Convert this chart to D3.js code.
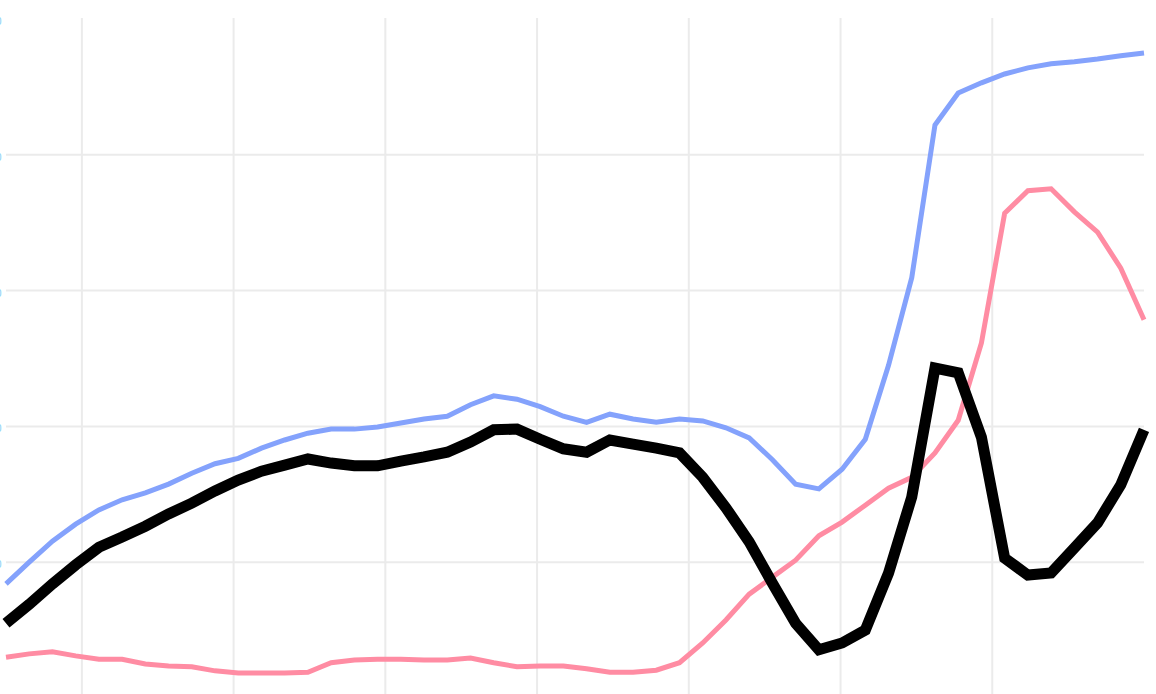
<!DOCTYPE html>
<html>
<head>
<meta charset="utf-8">
<script src="https://cdn.jsdelivr.net/npm/d3@7"></script>
<style>
  html, body { margin: 0; padding: 0; background: #ffffff; }
  svg { display: block; }
</style>
</head>
<body>
<svg id="chart" width="1156" height="694"></svg>
<script>
// x positions in axis units (gridlines at whole units)
const xStart = 0.5, xEnd = 8;
const xTicks = [1, 2, 3, 4, 5, 6, 7];
const yTicks = [20, 40, 60, 80, 100];
const yTickLabels = ["20", "40", "60", "80", "100"];

const blueSeries = [16.8, 20.0, 23.1, 25.6, 27.7, 29.2, 30.2, 31.5, 33.1, 34.5,
  35.3, 36.8, 38.0, 39.0, 39.6, 39.6, 39.9, 40.5, 41.1, 41.5,
  43.2, 44.5, 44.0, 42.9, 41.5, 40.6, 41.8, 41.1, 40.6, 41.1,
  40.8, 39.8, 38.3, 35.1, 31.5, 30.8, 33.7, 38.1, 49.0, 61.9,
  84.4, 89.1, 90.6, 91.9, 92.8, 93.4, 93.7, 94.1, 94.6, 95.0];

const blackSeries = [11.0, 13.8, 16.8, 19.6, 22.2, 23.7, 25.3, 27.1, 28.7, 30.5,
  32.1, 33.4, 34.3, 35.2, 34.6, 34.2, 34.2, 34.9, 35.5, 36.2,
  37.7, 39.5, 39.6, 38.1, 36.7, 36.2, 38.0, 37.4, 36.8, 36.1,
  32.5, 28.0, 23.0, 16.9, 11.0, 7.1, 8.1, 10.0, 18.4, 29.6,
  48.6, 47.9, 38.4, 20.6, 18.1, 18.4, 22.1, 25.8, 31.4, 39.5];

const pinkSeries = [6.0, 6.5, 6.8, 6.2, 5.7, 5.7, 5.0, 4.7, 4.6, 4.0,
  3.7, 3.7, 3.7, 3.8, 5.2, 5.6, 5.7, 5.7, 5.6, 5.6,
  5.9, 5.2, 4.6, 4.7, 4.7, 4.3, 3.8, 3.8, 4.1, 5.2,
  8.1, 11.5, 15.3, 17.8, 20.3, 23.9, 25.9, 28.4, 30.9, 32.5,
  36.1, 40.9, 52.3, 71.4, 74.7, 75.0, 71.6, 68.6, 63.3, 55.7];

const n = blueSeries.length;
const xValues = d3.range(n).map(i => xStart + (xEnd - xStart) * i / (n - 1));

const svg = d3.select("#chart");
const x = d3.scaleLinear().domain([xStart, xEnd]).range([6, 1144]);
const y = d3.scaleLinear().domain([0, 100]).range([698, 19]);

// gridlines
svg.append("g")
  .selectAll("line.h")
  .data(yTicks.filter(v => v < 100))
  .join("line")
  .attr("x1", x(xStart)).attr("x2", x(xEnd))
  .attr("y1", d => y(d)).attr("y2", d => y(d))
  .attr("stroke", "#ebebeb").attr("stroke-width", 2);

svg.append("g")
  .selectAll("line.v")
  .data(xTicks)
  .join("line")
  .attr("x1", d => x(d)).attr("x2", d => x(d))
  .attr("y1", 18).attr("y2", 700)
  .attr("stroke", "#ebebeb").attr("stroke-width", 2);

// y tick labels (mostly off-canvas on the left)
svg.append("g")
  .selectAll("text")
  .data(yTicks)
  .join("text")
  .attr("x", 1.6)
  .attr("y", (d) => y(d) + 3)
  .attr("text-anchor", "end")
  .attr("dominant-baseline", "middle")
  .attr("font-family", "Roboto, sans-serif")
  .attr("font-size", 11)
  .attr("fill", "#8ed3f7")
  .text((d, i) => yTickLabels[i]);

const line = d3.line()
  .x((d, i) => x(xValues[i]))
  .y(d => y(d));

function drawSeries(data, color, width) {
  svg.append("path")
    .datum(data)
    .attr("d", line)
    .attr("fill", "none")
    .attr("stroke", color)
    .attr("stroke-width", width)
    .attr("stroke-linejoin", "miter")
    .attr("stroke-linecap", "butt");
}

drawSeries(pinkSeries, "#ff8ca3", 5);
drawSeries(blueSeries, "#84a2fc", 5);
drawSeries(blackSeries, "#000000", 11);
</script>
</body>
</html>
